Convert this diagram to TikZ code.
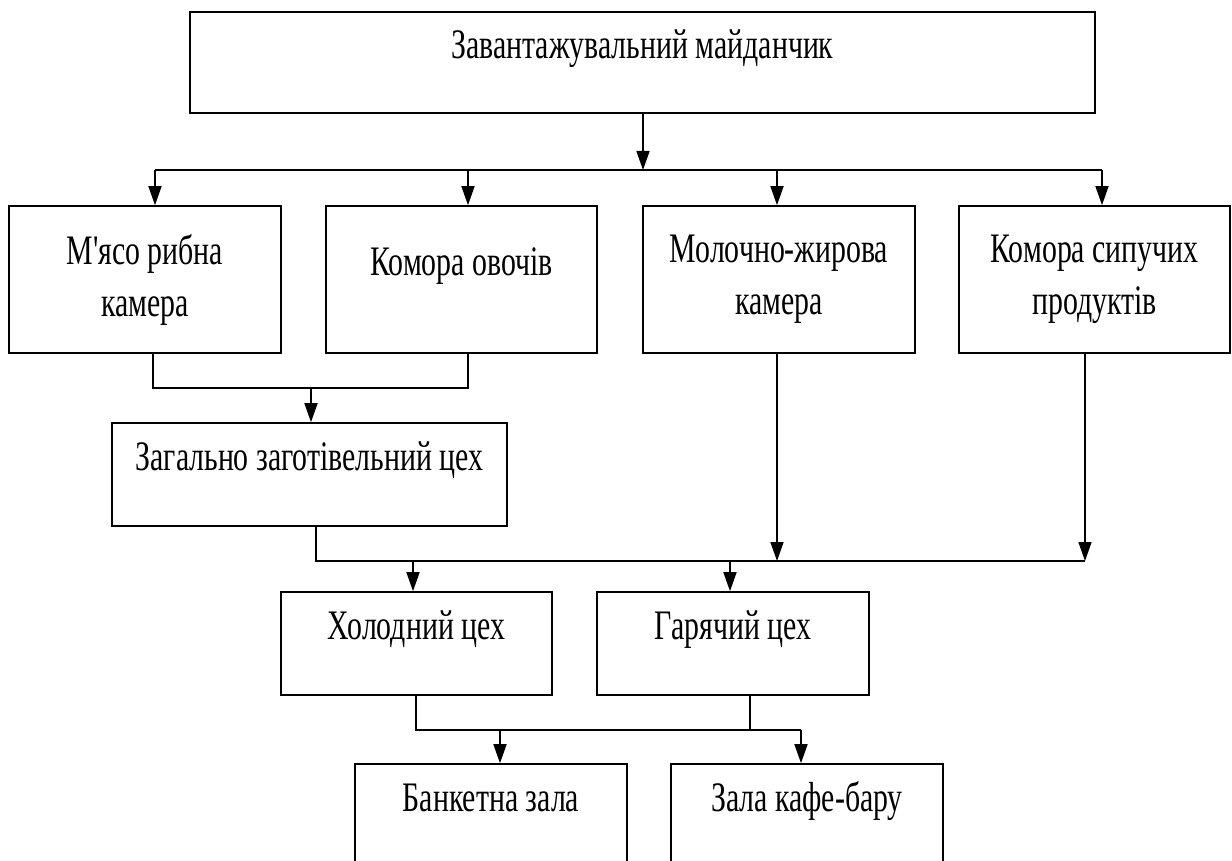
\documentclass[tikz,border=0pt]{standalone}
\usepackage{fontspec}
\setmainfont{Liberation Serif}[FakeStretch=0.71, Ligatures=TeXOff]
\usetikzlibrary{arrows.meta}
\begin{document}
\begin{tikzpicture}[x=1pt,y=-1pt,
  box/.style={draw, line width=1.6pt, rectangle, inner sep=0pt, font=\fontsize{42}{52}\selectfont},
  onebox/.style={box, text height=30pt, text depth=38pt},
  twobox/.style={box, align=center},
  ln/.style={line width=1.6pt},
  arr/.style={line width=1.6pt, -{Triangle[length=19pt,width=13pt]}}]
\clip (0,0) rectangle (1232,861);
\fill[white] (0,0) rectangle (1232,861);
% boxes
\node[onebox, minimum width=905pt, minimum height=101pt] (top) at (642.5,62.5) {Завантажувальний майданчик};
\node[twobox, minimum width=272pt, minimum height=147pt] (b1) at (145,279.5) {М'ясо рибна\\камера};
\node[onebox, minimum width=271pt, minimum height=147pt] (b2) at (461.5,279.5) {Комора овочів};
\node[twobox, minimum width=272pt, minimum height=147pt] (b3) at (779,279.5) {Молочно-жирова\\камера};
\node[twobox, minimum width=271pt, minimum height=147pt] (b4) at (1094.5,279.5) {Комора сипучих\\продуктів};
\node[onebox, minimum width=395pt, minimum height=103pt] (zag) at (309.5,474.5) {Загально заготівельний цех};
\node[onebox, minimum width=271pt, minimum height=103pt] (hol) at (416.5,643.5) {Холодний цех};
\node[onebox, minimum width=272pt, minimum height=103pt] (har) at (733,643.5) {Гарячий цех};
\node[onebox, minimum width=272pt, minimum height=103pt] (ban) at (491,815.5) {Банкетна зала};
\node[onebox, minimum width=272pt, minimum height=103pt] (kaf) at (807,815.5) {Зала кафе-бару};
% level 1 bus
\coordinate (t0) at (643,170);
\coordinate (a1) at (155,170);
\coordinate (a2) at (468,170);
\coordinate (a3) at (777,170);
\coordinate (a4) at (1102,170);
\draw[arr] (t0 |- top.south) -- (t0);
\draw[ln] (a1) -- (a4);
\draw[arr] (a1) -- (a1 |- b1.north);
\draw[arr] (a2) -- (a2 |- b2.north);
\draw[arr] (a3) -- (a3 |- b3.north);
\draw[arr] (a4) -- (a4 |- b4.north);
% merge to zag
\coordinate (m1) at (153,388);
\coordinate (m2) at (468,388);
\coordinate (m3) at (311,388);
\draw[ln] (m1 |- b1.south) -- (m1) -- (m2) -- (m2 |- b2.south);
\draw[arr] (m3) -- (m3 |- zag.north);
% level 3 bus
\coordinate (n1) at (316,561);
\coordinate (n2) at (777,561);
\coordinate (n4) at (1085,561);
\coordinate (n5) at (413,561);
\coordinate (n6) at (730,561);
\draw[ln] (n1 |- zag.south) -- (n1) -- (n4);
\draw[arr] (n2 |- b3.south) -- (n2);
\draw[arr] (n4 |- b4.south) -- (n4);
\draw[arr] (n5) -- (n5 |- hol.north);
\draw[arr] (n6) -- (n6 |- har.north);
% level 4 bus
\coordinate (p1) at (416,730);
\coordinate (p2) at (500,730);
\coordinate (p3) at (750,730);
\coordinate (p4) at (801,730);
\draw[ln] (p1 |- hol.south) -- (p1) -- (p4);
\draw[ln] (p3 |- har.south) -- (p3);
\draw[arr] (p2) -- (p2 |- ban.north);
\draw[arr] (p4) -- (p4 |- kaf.north);
\end{tikzpicture}
\end{document}
